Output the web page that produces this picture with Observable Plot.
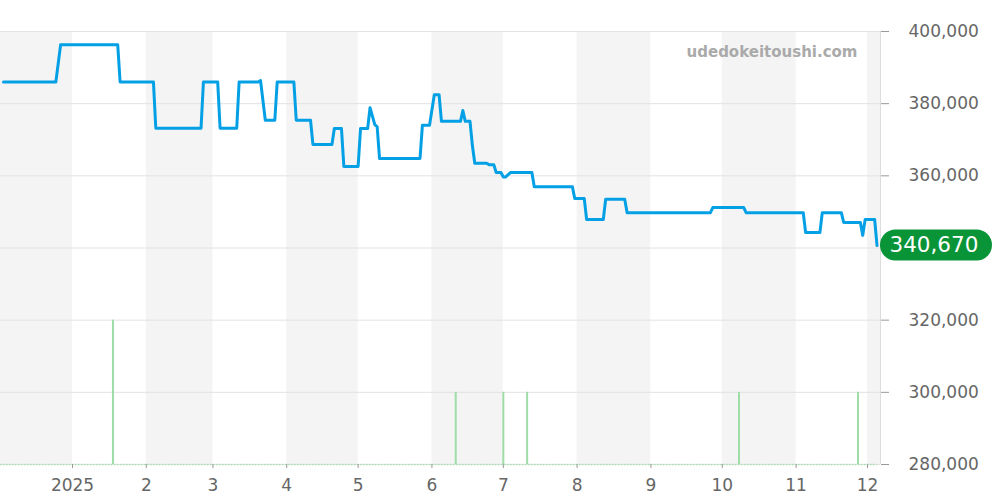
<!DOCTYPE html>
<html>
<head>
<meta charset="utf-8">
<script src="https://cdn.jsdelivr.net/npm/d3@7"></script>
<script src="https://cdn.jsdelivr.net/npm/@observablehq/plot@0.6"></script>
<style>
  html, body { margin: 0; padding: 0; background: #fff; }
  #chart svg { display: block; }
</style>
</head>
<body>
<div id="chart"></div>
<script>
// ---- data ----
const priceDates = [
  "2024-12-03","2024-12-25","2024-12-27","2025-01-20","2025-01-21","2025-02-04","2025-02-05","2025-02-24",
  "2025-02-25","2025-03-03","2025-03-04","2025-03-11","2025-03-12","2025-03-20","2025-03-21","2025-03-23",
  "2025-03-27","2025-03-28","2025-04-04","2025-04-05","2025-04-11","2025-04-12","2025-04-20","2025-04-21",
  "2025-04-24","2025-04-25","2025-05-01","2025-05-02","2025-05-05","2025-05-06","2025-05-08","2025-05-09",
  "2025-05-10","2025-05-27","2025-05-28","2025-05-31","2025-06-02","2025-06-04","2025-06-05","2025-06-13",
  "2025-06-14","2025-06-15","2025-06-17","2025-06-18","2025-06-19","2025-06-24","2025-06-25","2025-06-27",
  "2025-06-28","2025-06-30","2025-07-01","2025-07-02","2025-07-04","2025-07-13","2025-07-14","2025-07-30",
  "2025-07-31","2025-08-04","2025-08-05","2025-08-12","2025-08-13","2025-08-21","2025-08-22","2025-09-26",
  "2025-09-27","2025-10-10","2025-10-11","2025-11-04","2025-11-05","2025-11-11","2025-11-12","2025-11-20",
  "2025-11-21","2025-11-28","2025-11-29","2025-11-30","2025-12-04","2025-12-05"
];
const priceValues = [
  386000,386000,396300,396300,386000,386000,373200,373200,
  386000,386000,373200,373200,386000,386000,386400,375400,
  375400,386000,386000,375400,375400,368700,368700,373100,
  373100,362600,362600,373100,373100,378900,374200,373600,
  364800,364800,374000,374000,382500,382500,375100,375100,
  378100,375100,375100,368400,363500,363500,363100,363100,
  360900,360900,359700,359700,360900,360900,357000,357000,
  353700,353700,347900,347900,353500,353500,349800,349800,
  351200,351200,349800,349800,344300,344300,349800,349800,
  347100,347100,343500,347900,347900,340670
];
const saleDates = ["2025-01-18","2025-06-11","2025-07-01","2025-07-11","2025-10-08","2025-11-27"];
const saleCounts = [2,1,1,1,1,1];
const xTickDates = ["2025-01-01","2025-02-01","2025-03-01","2025-04-01","2025-05-01","2025-06-01",
                    "2025-07-01","2025-08-01","2025-09-01","2025-10-01","2025-11-01","2025-12-01"];
const xTickLabels = ["2025","2","3","4","5","6","7","8","9","10","11","12"];
const yTicks = [280000,300000,320000,340000,360000,380000,400000];
const shadedMonths = ["2024-12-01","2025-02-01","2025-04-01","2025-06-01","2025-08-01","2025-10-01","2025-12-01"];
const xDomain = ["2024-12-01T18:00Z","2025-12-06T11:00Z"];
const yDomain = [280000, 400000];
const latestPrice = 340670;
const watermark = "udedokeitoushi.com";

// ---- build tables ----
const parse = s => new Date(s);
const dom = xDomain.map(parse);
const prices = priceDates.map((d, i) => ({date: parse(d), price: priceValues[i]}));
const sales = saleDates.map((d, i) => ({date: parse(d), count: saleCounts[i]}));
const ticks = xTickDates.map(parse);
const tickLabel = new Map(xTickDates.map((d, i) => [+parse(d), xTickLabels[i]]));
const bands = shadedMonths.map(s => {
  const start = parse(s);
  const end = d3.utcMonth.offset(start, 1);
  return {x1: new Date(Math.max(start, dom[0])), x2: new Date(Math.min(end, dom[1]))};
});
const fmt = d3.format(",");
// the latest-price badge hides the axis label it sits on
const axisTicks = yTicks.filter(t => Math.abs(t - latestPrice) > 5000);

function pill(index, scales, values, dimensions) {
  const y = scales.y(latestPrice);
  const x0 = dimensions.width - dimensions.marginRight;
  const g = d3.create("svg:g");
  g.append("rect")
    .attr("x", x0).attr("y", y - 15.5)
    .attr("width", 112).attr("height", 31)
    .attr("rx", 15.5).attr("ry", 15.5)
    .attr("fill", "#0a9438");
  return g.node();
}

const chart = Plot.plot({
  width: 1000,
  height: 500,
  marginLeft: 0,
  marginRight: 120,
  marginTop: 31,
  marginBottom: 36,
  style: {fontFamily: "DejaVu Sans", fontSize: "17px", color: "#666", background: "#fff", overflow: "visible"},
  x: {type: "utc", domain: dom, label: null},
  y: {domain: yDomain, label: null},
  marks: [
    Plot.rect(bands, {x1: "x1", x2: "x2", fill: "#f4f4f4"}),
    Plot.ruleY(yTicks, {stroke: "#e2e2e2", strokeWidth: 1}),
    Plot.ruleX([dom[1]], {stroke: "#dcdcdc", strokeWidth: 1}),
    Plot.ruleY([yDomain[0]], {x1: dom[0], x2: prices[prices.length - 1].date, stroke: "#a6dfb0", strokeWidth: 1.5, strokeDasharray: "1.5,1.5"}),
    Plot.ruleX(sales, {x: "date", y1: () => yDomain[0], y2: d => yDomain[0] + d.count * 20000, stroke: "#9edca8", strokeWidth: 2}),
    Plot.line(prices, {x: "date", y: "price", stroke: "#04a0e6", strokeWidth: 3}),
    Plot.text([watermark], {frameAnchor: "top-right", text: d => d, dx: -23, dy: 21, textAnchor: "end", lineAnchor: "middle", fill: "#aaa", fontWeight: "bold", fontSize: 15}),
    Plot.axisX({ticks: ticks, tickFormat: d => tickLabel.get(+d), tickSize: 4, tickPadding: 10, stroke: "#999", fill: "#666", fontSize: 17, label: null}),
    Plot.axisY({anchor: "right", ticks: axisTicks, tickFormat: fmt, tickSize: 8, tickPadding: 20, stroke: "#999", fill: "#666", fontSize: 17, label: null}),
    pill,
    Plot.text([latestPrice], {y: d => d, frameAnchor: "right", textAnchor: "start", dx: 9, fill: "#fff", fontSize: 21.5, text: d => fmt(d)})
  ]
});
document.getElementById("chart").appendChild(chart);
</script>
</body>
</html>
